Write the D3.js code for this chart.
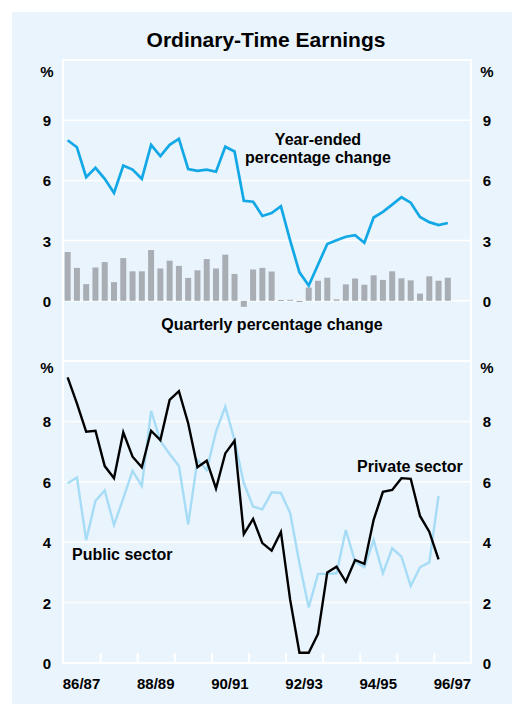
<!DOCTYPE html>
<html>
<head>
<meta charset="utf-8">
<script src="https://cdn.jsdelivr.net/npm/d3@7"></script>
<style>
body{margin:0;background:#fff;}
svg{display:block;font-family:"Liberation Sans",Arial,Helvetica,sans-serif;}
</style>
</head>
<body>
<svg id="chart" width="512" height="704"></svg>
<script>
'use strict';
/*
 *	Data (quarterly, starting Sep qtr 1986)
 */
var yearLabels=["86/87","88/89","90/91","92/93","94/95","96/97"];
var yearEnded=[8.0,7.65,6.16,6.63,6.08,5.37,6.74,6.54,6.08,7.77,7.21,7.77,8.07,6.56,6.48,6.54,6.43,7.68,7.44,4.98,
	4.94,4.23,4.37,4.71,3.0,1.42,0.76,1.8,2.83,3.02,3.19,3.27,2.89,4.15,4.43,4.79,5.16,4.89,4.18,3.92,3.77,3.88];
var quarterly=[2.43,1.64,0.83,1.66,1.93,0.93,2.13,1.47,1.47,2.53,1.61,2.0,1.74,1.14,1.52,2.08,1.61,2.3,1.34,-0.3,
	1.56,1.64,1.46,0.04,0.05,-0.06,0.66,1.0,1.15,0.07,0.82,1.11,0.8,1.27,1.04,1.47,1.12,1.02,0.36,1.22,1.0,1.15];
var blackSeries=[9.46,8.6,7.66,7.69,6.52,6.12,7.64,6.83,6.48,7.69,7.38,8.71,9.0,7.94,6.48,6.7,5.78,6.94,7.36,4.27,
	4.77,3.97,3.72,4.34,2.09,0.34,0.34,0.96,3.0,3.19,2.69,3.41,3.28,4.74,5.67,5.73,6.12,6.1,4.87,4.35,3.43];
var lightSeries=[5.95,6.14,4.07,5.37,5.71,4.57,5.45,6.36,5.86,8.35,7.35,6.92,6.52,4.59,6.72,6.39,7.66,8.49,7.38,5.95,
	5.18,5.09,5.65,5.63,4.96,3.3,1.84,2.95,2.95,2.97,4.4,3.35,3.17,4.07,2.97,3.8,3.52,2.55,3.17,3.33,5.53];
var topTicks=[0,3,6,9];
var bottomTicks=[0,2,4,6,8];

/*
 *	Layout
 */
var left=63,right=471,top1=60,mid=361,bottom=663;
var nQuarters=44;
var svg=d3.select("#chart");

svg.append("rect").attr("x",12).attr("y",12).attr("width",500).attr("height",692).attr("fill","#eaf4fd");

var x=d3.scaleLinear().domain([0,nQuarters]).range([left,right]);
var yTop=d3.scaleLinear().domain([-3,12]).range([mid,top1]);
var yBot=d3.scaleLinear().domain([0,10]).range([bottom,mid]);

// title
svg.append("text").attr("x",266).attr("y",47).attr("text-anchor","middle")
	.attr("font-size",21).attr("font-weight","bold").text("Ordinary-Time Earnings");

// grid lines
function grid(scale,ticks){
	svg.append("g").selectAll("line").data(ticks).enter().append("line")
		.attr("x1",left).attr("x2",right)
		.attr("y1",function(d){return scale(d);}).attr("y2",function(d){return scale(d);})
		.attr("stroke","#fff").attr("stroke-width",1.5);
}
grid(yTop,topTicks);
grid(yBot,bottomTicks.slice(1));

// frame
svg.append("rect").attr("x",left).attr("y",top1).attr("width",right-left).attr("height",bottom-top1)
	.attr("fill","none").attr("stroke","#fff").attr("stroke-width",2);
svg.append("line").attr("x1",left).attr("x2",right).attr("y1",mid).attr("y2",mid)
	.attr("stroke","#fff").attr("stroke-width",2);

// x axis ticks
var xAxis=d3.axisBottom(x).tickValues(d3.range(4,nQuarters,4)).tickSize(-10).tickFormat("");
var gx=svg.append("g").attr("transform","translate(0,"+bottom+")").call(xAxis);
gx.select(".domain").remove();
gx.selectAll(".tick line").attr("stroke","#fff").attr("stroke-width",2);

// year labels
svg.append("g").selectAll("text").data(yearLabels).enter().append("text")
	.attr("x",function(d,i){return x(i*8+2);}).attr("y",689)
	.attr("text-anchor","middle").attr("font-size",15).attr("font-weight","bold")
	.text(function(d){return d;});

// y labels both sides
function yLabels(scale,ticks,pctY){
	[47,487].forEach(function(cx){
		var axis=d3.axisLeft(scale).tickValues(ticks).tickSize(0).tickFormat(d3.format("d"));
		var g=svg.append("g").attr("transform","translate("+(cx+4)+",0)").call(axis);
		g.select(".domain").remove();
		g.selectAll("text").attr("x",-4).attr("dy","0.36em").attr("text-anchor","middle")
			.attr("font-size",15).attr("font-weight","bold").attr("fill","#000")
			.attr("font-family","Liberation Sans,Arial,sans-serif");
		svg.append("text").attr("x",cx).attr("y",pctY).attr("dy","0.36em").attr("text-anchor","middle")
			.attr("font-size",15).attr("font-weight","bold").text("%");
	});
}
yLabels(yTop,topTicks,72);
yLabels(yBot,bottomTicks,368);

// quarterly bars
var bw=6;
svg.append("g").selectAll("rect").data(quarterly).enter().append("rect")
	.attr("x",function(d,i){return x(i+0.5)-bw/2;})
	.attr("y",function(d){return yTop(Math.max(0,d));})
	.attr("width",bw)
	.attr("height",function(d){return Math.max(1,Math.abs(yTop(d)-yTop(0)));})
	.attr("fill","#a9aeb4");

// lines
function drawLine(data,scale,color,w){
	var line=d3.line().x(function(d,i){return x(i+0.5);}).y(function(d){return scale(d);});
	svg.append("path").datum(data).attr("d",line).attr("fill","none")
		.attr("stroke",color).attr("stroke-width",w).attr("stroke-linejoin","miter");
}
drawLine(yearEnded,yTop,"#12a8e6",2.7);
drawLine(lightSeries,yBot,"#a6dcf5",2.4);
drawLine(blackSeries,yBot,"#000",2.4);

// annotations
function label(t,xx,yy,anchor){
	svg.append("text").attr("x",xx).attr("y",yy).attr("text-anchor",anchor||"middle")
		.attr("font-size",16).attr("font-weight","bold").text(t);
}
label("Year-ended",318,145);
label("percentage change",318,163);
label("Quarterly percentage change",272,330);
label("Public sector",72,560,"start");
label("Private sector",357,472,"start");
</script>
</body>
</html>
